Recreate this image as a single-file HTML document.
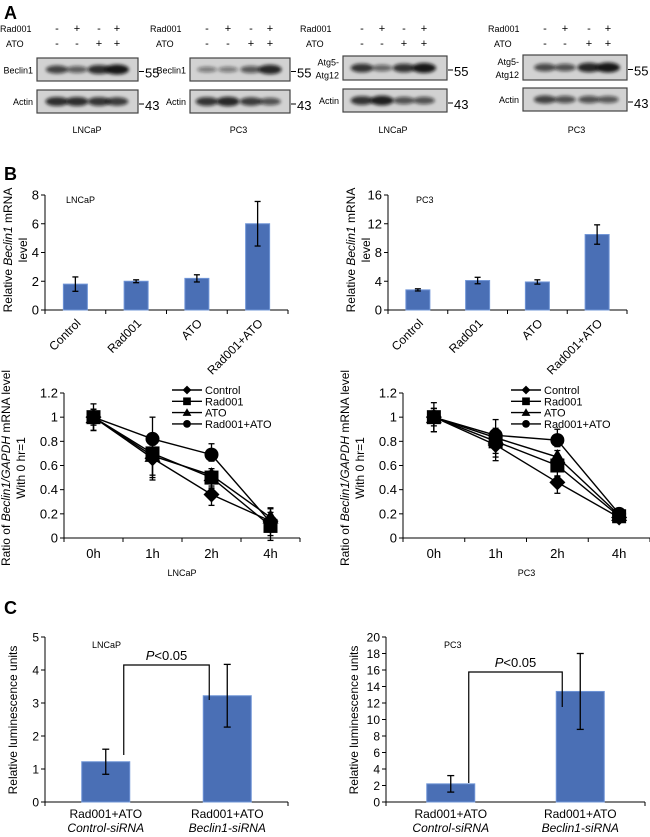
<!DOCTYPE html>
<html><head><meta charset="utf-8"><style>
body{margin:0;background:#fff}
svg{display:block;font-family:"Liberation Sans",sans-serif}
</style></head><body>
<svg id="fig" width="650" height="837" viewBox="0 0 650 837" xmlns="http://www.w3.org/2000/svg">
<defs><filter id="bl" x="-20%" y="-50%" width="140%" height="200%"><feGaussianBlur stdDeviation="1.6"/></filter></defs>
<text x="4" y="19" font-size="18" font-weight="bold">A</text>
<text x="4" y="180" font-size="18" font-weight="bold">B</text>
<text x="4" y="614" font-size="18" font-weight="bold">C</text>
<g id="root"></g>
</svg>
<script>
// ---- data ----
const blotRad = ['-','+','-','+'];
const blotAto = ['-','-','+','+'];
const blot1Top = [0.7,0.5,0.85,1.0], blot1Act = [0.85,0.85,0.8,0.75];
const blot2Top = [0.3,0.3,0.55,0.9], blot2Act = [0.8,0.9,0.75,0.6];
const blot3Top = [0.8,0.45,0.8,1.0], blot3Act = [0.8,0.95,0.6,0.6];
const blot4Top = [0.65,0.6,0.9,1.0], blot4Act = [0.7,0.6,0.6,0.55];

const barCats = ['Control','Rad001','ATO','Rad001+ATO'];
const lncBar = [1.8,2.0,2.2,6.0], lncBarErr = [0.5,0.1,0.25,1.55];
const pc3Bar = [2.8,4.1,3.9,10.5], pc3BarErr = [0.15,0.45,0.3,1.35];
const barTicksL = [0,2,4,6,8], barTicksR = [0,4,8,12,16];

const timeCats = ['0h','1h','2h','4h'];
const seriesNames = ['Control','Rad001','ATO','Rad001+ATO'];
const lncCtrl = [1,0.66,0.36,0.14], lncRad = [1,0.70,0.50,0.10], lncAto = [1,0.68,0.52,0.17], lncBoth = [1,0.82,0.69,0.13];
const lncErr = [0.11,0.18,0.09,0.12];
const pcCtrl = [1,0.77,0.46,0.17], pcRad = [1,0.80,0.60,0.18], pcAto = [1,0.83,0.67,0.19], pcBoth = [1,0.85,0.81,0.20];
const pcErr = [0.12,0.13,0.09,0.03];
const lineTicks = [0,0.2,0.4,0.6,0.8,1,1.2];

const sirnaCats = ['Control-siRNA','Beclin1-siRNA'];
const lncLum = [1.22,3.22], lncLumErr = [0.38,0.95];
const pcLum = [2.2,13.4], pcLumErr = [1.0,4.6];
const lumTicksL = [0,1,2,3,4,5], lumTicksR = [0,2,4,6,8,10,12,14,16,18,20];

// ---- helpers ----
const NS='http://www.w3.org/2000/svg';
const root=document.getElementById('root');
function mk(tag,attrs,parent,txt){const e=document.createElementNS(NS,tag);for(const k in attrs)e.setAttribute(k,attrs[k]);if(txt!==undefined)e.textContent=txt;(parent||root).appendChild(e);return e;}
function line(x1,y1,x2,y2,p,w){return mk('line',{x1,y1,x2,y2,stroke:'#000','stroke-width':w||1},p);}

// ---- blots ----
function blot(x0,lanes,topY,topH,topVals,actY,actVals,w,labelX,topLabel,cell,rowY){
  const g=mk('g',{});
  
  
  const t1=mk('text',{x:labelX,y:rowY,'font-size':9},g,'Rad001');
  
  const t2=mk('text',{x:labelX+6,y:rowY+15,'font-size':9},g,'ATO');
  
  lanes.forEach((lx,i)=>{
    mk('text',{x:lx,y:rowY,'font-size':11,'text-anchor':'middle'},g,blotRad[i]);
    mk('text',{x:lx,y:rowY+15,'font-size':11,'text-anchor':'middle'},g,blotAto[i]);
  });
  [[topY,topH,topVals],[actY,23,actVals]].forEach(([y,h,vals],r)=>{
    const b=mk('rect',{x:x0,y:y,width:w,height:h,fill:'#d2d2d2',stroke:'#444','stroke-width':1.2},g);
    
    lanes.forEach((lx,i)=>{
      const v=vals[i];
      mk('ellipse',{cx:lx,cy:y+h/2,rx:9+3*v,ry:2+3*v,fill:'#111','fill-opacity':0.25+0.7*v,filter:'url(#bl)'},g);
    });
  });
  const lbl = topLabel.split('|');
  lbl.forEach((s,k)=>mk('text',{x:x0-4,y:topY+topH/2+4+(k-(lbl.length-1)/2)*13,'font-size':9,'text-anchor':'end'},g,s));
  mk('text',{x:x0-4,y:actY+15,'font-size':9,'text-anchor':'end'},g,'Actin');
  line(x0+w+1,topY+topH/2+2,x0+w+6,topY+topH/2+2,g);
  mk('text',{x:x0+w+7,y:topY+topH/2+8,'font-size':13,'font-family':'Liberation Sans Narrow, Liberation Sans, sans-serif'},g,'55');
  line(x0+w+1,actY+14,x0+w+6,actY+14,g);
  mk('text',{x:x0+w+7,y:actY+20,'font-size':13},g,'43');
  const c=mk('text',{x:(lanes[0]+lanes[3])/2,y:133,'font-size':9,'text-anchor':'middle'},g,cell);
  
}
blot(37,[57,77,99,117],58,23,blot1Top,90,blot1Act,101,0,'Beclin1','LNCaP',32);
blot(190,[207,228,251,270],58,23,blot2Top,90,blot2Act,100,150,'Beclin1','PC3',32);
blot(343,[362,382,404,424],56,24,blot3Top,89,blot3Act,104,300,'Atg5-|Atg12','LNCaP',32);
blot(523,[545,565,589,608],55,25,blot4Top,88,blot4Act,104,488,'Atg5-|Atg12','PC3',32);

// ---- generic axes ----
function axes(g,ax,x1,y0,yTop,ticks,vmax,fmt,nCats,fs){
  const ys=v=>y0-(v/vmax)*(y0-yTop);
  line(ax,yTop,ax,y0,g);line(ax,y0,x1,y0,g);
  ticks.forEach(t=>{line(ax-4,ys(t),ax,ys(t),g);
    const tl=mk('text',{x:ax-6,y:ys(t)+4.5,'font-size':fs||13,'text-anchor':'end'},g,fmt?fmt(t):t);
    });
  const cw=(x1-ax)/nCats;
  for(let i=0;i<=nCats;i++)line(ax+i*cw,y0,ax+i*cw,y0+4,g);
  return ys;
}
function ytitle(g,x,y,lines){
  lines.forEach((l,k)=>{const t=mk('text',{x:0,y:0,'font-size':12,'text-anchor':'middle',transform:`translate(${x+k*15},${y}) rotate(-90)`},g);
    
    l.forEach(p=>{const s=mk('tspan',{},t,p[0]);if(p[1])s.setAttribute('font-style','italic');});});
}
function errbar(g,x,y1,y2,cap){line(x,y1,x,y2,g,1.3);line(x-cap,y1,x+cap,y1,g,1.3);line(x-cap,y2,x+cap,y2,g,1.3);}

// ---- B bar charts ----
function barChart(ax,x1,vals,errs,ticks,title,tx){
  const g=mk('g',{});
  
  
  const y0=310,yTop=195,vmax=ticks[ticks.length-1];
  const ys=axes(g,ax,x1,y0,yTop,ticks,vmax,null,4,13);
  const cw=(x1-ax)/4;
  vals.forEach((v,i)=>{const cx=ax+cw*(i+0.5);
    const r=mk('rect',{x:cx-12,y:ys(v),width:24,height:y0-ys(v),fill:'#4a6fb5',stroke:'#6f94d6','stroke-width':1},g);
    
    errbar(g,cx,ys(v+errs[i]),ys(v-errs[i]),3);
    const t=mk('text',{x:0,y:0,'font-size':12,'text-anchor':'end',transform:`translate(${cx+6},${y0+14}) rotate(-45)`},g,barCats[i]);
    
  });
  mk('text',{x:tx,y:203,'font-size':9},g,title);
  ytitle(g,ax-33,250,[[['Relative '],['Beclin1',1],[' mRNA']],[['level']]]);
}
barChart(45,288,lncBar,lncBarErr,barTicksL,'LNCaP',66);
barChart(388,627,pc3Bar,pc3BarErr,barTicksR,'PC3',416);

// ---- B line charts ----
function marker(g,shape,x,y){
  if(shape==0)mk('path',{d:`M${x} ${y-8}L${x+8} ${y}L${x} ${y+8}L${x-8} ${y}Z`,fill:'#000'},g);
  else if(shape==1)mk('rect',{x:x-7,y:y-7,width:14,height:14,fill:'#000'},g);
  else if(shape==2)mk('path',{d:`M${x} ${y-8}L${x+8} ${y+6}L${x-8} ${y+6}Z`,fill:'#000'},g);
  else mk('circle',{cx:x,cy:y,r:7,fill:'#000'},g);
}
function lineChart(ax,x1,series,err,title){
  const g=mk('g',{});
  
  
  const y0=538,yTop=393;
  const ys=axes(g,ax,x1,y0,yTop,lineTicks,1.2,null,4,13);
  const cw=(x1-ax)/4;const xs=i=>ax+cw*(i+0.5);
  timeCats.forEach((c,i)=>{const t=mk('text',{x:xs(i),y:558,'font-size':13,'text-anchor':'middle'},g,c);
    });
  series.forEach((s,k)=>{
    const sg=mk('g',{},g);
    
    
    mk('polyline',{points:s.map((v,i)=>xs(i)+','+ys(v)).join(' '),fill:'none',stroke:'#000','stroke-width':1.4},sg);
    s.forEach((v,i)=>{errbar(sg,xs(i),ys(v+err[i]*(k==3?1:0.6)),ys(v-err[i]*(k==3?0.6:1)),3);marker(sg,k,xs(i),ys(v));});
  });
  const lx=ax+108;
  seriesNames.forEach((n,k)=>{const y=390+k*11.3;
    const lg=mk('g',{},g);
    line(lx,y,lx+30,y,lg,1.4);
    const gm=mk('g',{transform:`translate(${lx+15},${y}) scale(0.55) translate(${-lx-15},${-y})`},lg);marker(gm,k,lx+15,y);
    mk('text',{x:lx+33,y:y+4,'font-size':11},lg,n);});
  mk('text',{x:(ax+x1)/2,y:576,'font-size':9,'text-anchor':'middle'},g,title);
  ytitle(g,ax-54,468,[[['Ratio of '],['Beclin1/GAPDH',1],[' mRNA level']],[['With 0 hr=1']]]);
}
lineChart(64,300,[lncCtrl,lncRad,lncAto,lncBoth],lncErr,'LNCaP');
lineChart(403,650,[pcCtrl,pcRad,pcAto,pcBoth],pcErr,'PC3');

// ---- C bar charts ----
function lumChart(ax,x1,vals,errs,ticks,title,tx,brY,lFoot,rFoot){
  const g=mk('g',{});
  
  
  const y0=802,yTop=637,vmax=ticks[ticks.length-1];
  const ys=axes(g,ax,x1,y0,yTop,ticks,vmax,null,1,12);
  const cw=(x1-ax)/2;const cxs=[];
  vals.forEach((v,i)=>{const cx=ax+cw*(i+0.5);cxs.push(cx);
    const r=mk('rect',{x:cx-24,y:ys(v),width:48,height:y0-ys(v),fill:'#4a6fb5',stroke:'#6f94d6','stroke-width':1},g);
    
    errbar(g,cx,ys(v+errs[i]),ys(v-errs[i]),3.5);
    mk('text',{x:cx,y:818,'font-size':12,'text-anchor':'middle'},g,'Rad001+ATO');
    mk('text',{x:cx,y:832,'font-size':12,'text-anchor':'middle','font-style':'italic'},g,sirnaCats[i]);
  });
  const bl=cxs[0]+18,br=cxs[1]-18;
  const bk=mk('polyline',{points:`${bl},${lFoot} ${bl},${brY} ${br},${brY} ${br},${rFoot}`,fill:'none',stroke:'#000','stroke-width':1.2},g);
  
  const p=mk('text',{x:(bl+br)/2,y:brY-5,'font-size':13,'text-anchor':'middle'},g);
  
  mk('tspan',{'font-style':'italic'},p,'P');mk('tspan',{},p,'<0.05');
  mk('text',{x:tx,y:648,'font-size':9},g,title);
  ytitle(g,ax-28,720,[[['Relative luminescence units']]]);
}
lumChart(45,288,lncLum,lncLumErr,lumTicksL,'LNCaP',92,665,755,700);
lumChart(386,645,pcLum,pcLumErr,lumTicksR,'PC3',444,672,783,707);
</script>
</body></html>
